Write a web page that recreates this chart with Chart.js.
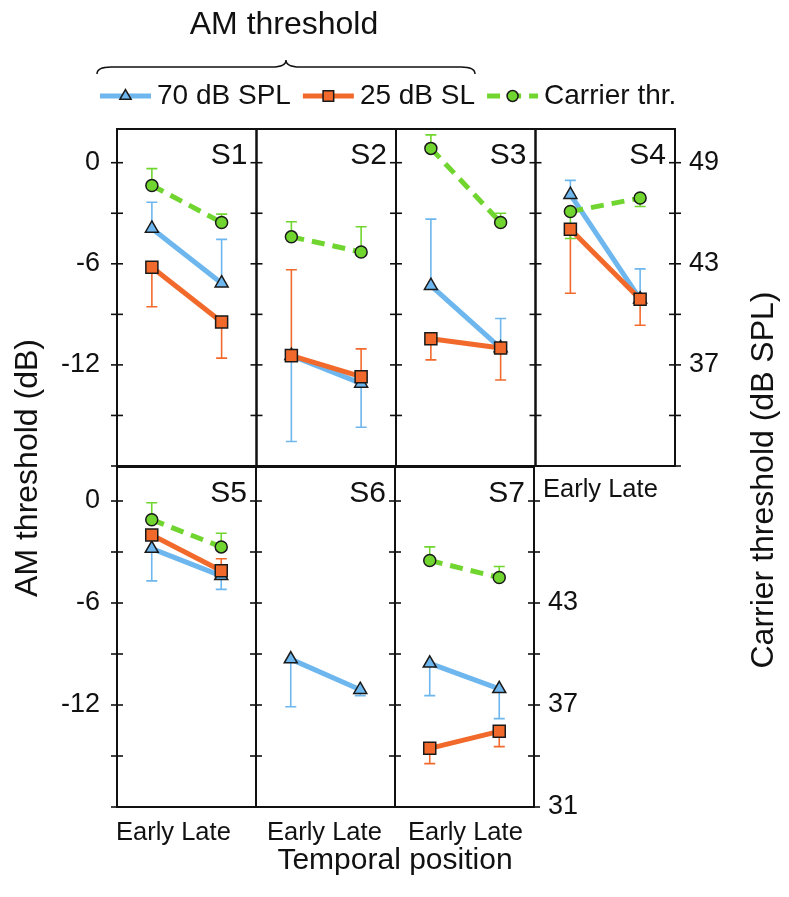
<!DOCTYPE html>
<html>
<head>
<meta charset="utf-8">
<title>AM threshold by temporal position</title>
<script src="https://cdn.jsdelivr.net/npm/chart.js@4.4.1/dist/chart.umd.min.js"></script>
<style>
  html, body { margin:0; padding:0; background:#ffffff; }
  #wrap { position:relative; width:789px; height:897px; overflow:hidden; background:#fff; }
  #wrap canvas { position:absolute; left:0; top:0; }
</style>
</head>
<body>
<div id="wrap">
  <canvas id="rowTop" width="789" height="897"></canvas>
  <canvas id="rowBottom" width="789" height="897"></canvas>
</div>
<script>
// ---------------- data ----------------
const topPanels = ['S1', 'S2', 'S3', 'S4'];
const bottomPanels = ['S5', 'S6', 'S7'];
const positions = ['Early', 'Late'];
const seriesNames = ['70 dB SPL', '25 dB SL', 'Carrier thr.'];
const amTicks = [0, -3, -6, -9, -12, -15, -18];
const amTickLabels = ['0', '-6', '-12'];
const carrierTicks = [49, 46, 43, 40, 37, 34, 31];
const carrierLabelsTop = ['49', '43', '37'];
const carrierLabelsBottom = ['43', '37', '31'];

// AM thresholds (dB), order: S1 Early, S1 Late, S2 Early, S2 Late, ...
const spl70Top       = [-3.9, -7.15, -11.45, -13.1, -7.3, -11.0, -1.9, -8.1];
const spl70TopErr    = [-2.35, -4.55, -16.55, -15.7, -3.35, -9.25, -1.05, -6.3];
const sl25Top        = [-6.2, -9.45, -11.45, -12.7, -10.45, -11.0, -3.95, -8.1];
const sl25TopErr     = [-8.55, -11.6, -6.35, -11.05, -11.7, -12.9, -7.75, -9.65];
// carrier thresholds (dB SPL)
const carrierTop     = [47.65, 45.45, 44.6, 43.7, 49.85, 45.45, 46.1, 46.9];
const carrierTopErr  = [48.65, 45.95, 45.5, 45.2, 50.65, 46.0, 44.5, 46.4];

const spl70Bottom      = [-2.8, -4.4, -9.3, -11.1, -9.55, -11.05];
const spl70BottomErr   = [-4.7, -5.2, -12.1, -11.45, -11.45, -12.8];
const sl25Bottom       = [-2.0, -4.1, null, null, -14.55, -13.55];
const sl25BottomErr    = [null, -3.4, null, null, -15.45, -14.45];
const carrierBottom    = [47.9, 46.3, null, null, 45.5, 44.5];
const carrierBottomErr = [48.9, 47.1, null, null, 46.3, 45.15];

// ---------------- style ----------------
const FONT = '"Liberation Sans", Arial, Helvetica, sans-serif';
const INK = '#111111';
const STYLE = [
  { color: '#6db6ee', marker: 'triangle', radius: 7.5, legendRadius: 6.5, dash: [],      axis: 'yL' },
  { color: '#f26a2b', marker: 'rect',     radius: 8.5, legendRadius: 7.5, dash: [],      axis: 'yL' },
  { color: '#70d62f', marker: 'circle',   radius: 6,   legendRadius: 5.5, dash: [13, 8], axis: 'yR' }
];

const errorBarPlugin = {
  id: 'errorBars',
  beforeDatasetsDraw(chart) {
    const ctx = chart.ctx;
    chart.data.datasets.forEach((ds, i) => {
      const meta = chart.getDatasetMeta(i);
      const ys = chart.scales[ds.yAxisID];
      ds.data.forEach((v, j) => {
        const e = ds.errEnd[j];
        if (v == null || e == null) return;
        const x = meta.data[j].x;
        const y0 = ys.getPixelForValue(v), y1 = ys.getPixelForValue(e);
        ctx.save();
        ctx.strokeStyle = ds.borderColor;
        ctx.lineWidth = 1.6;
        ctx.setLineDash([]);
        ctx.beginPath();
        ctx.moveTo(x, y0); ctx.lineTo(x, y1);
        ctx.moveTo(x - 5.5, y1); ctx.lineTo(x + 5.5, y1);
        ctx.stroke();
        ctx.restore();
      });
    });
  }
};

function framePlugin(panels, isTop) {
  return {
    id: 'frame',
    afterDraw(chart) {
      const ctx = chart.ctx, xs = chart.scales.x, yl = chart.scales.yL, yr = chart.scales.yR, a = chart.chartArea;
      const edges = [];
      for (let k = 0; k <= panels.length; k++) edges.push(xs.getPixelForValue(2 * k - 0.5));
      ctx.save();
      ctx.strokeStyle = INK;
      ctx.lineWidth = 2;
      panels.forEach((p, k) => ctx.strokeRect(edges[k], a.top, edges[k + 1] - edges[k], a.bottom - a.top));
      // tick marks crossing every panel edge
      ctx.lineWidth = 1.6;
      edges.forEach((ex, k) => {
        const last = k === edges.length - 1;
        const pys = last ? carrierTicks.map(v => yr.getPixelForValue(v)) : amTicks.map(v => yl.getPixelForValue(v));
        pys.forEach(py => { ctx.beginPath(); ctx.moveTo(ex - 6, py); ctx.lineTo(ex + 6, py); ctx.stroke(); });
      });
      // panel names
      ctx.fillStyle = INK;
      ctx.font = '30px ' + FONT;
      ctx.textAlign = 'right';
      ctx.textBaseline = 'alphabetic';
      panels.forEach((p, k) => ctx.fillText(p, edges[k + 1] - 9, a.top + 35));

      const posText = positions.join(' ');
      if (!isTop) {
        ctx.font = '25.5px ' + FONT;
        ctx.textAlign = 'left';
        const offs = [-1, 11, 13];
        panels.forEach((p, k) => ctx.fillText(posText, edges[k] + offs[k], a.bottom + 33));
        ctx.fillText(posText, a.right + 9, a.top + 30);
        ctx.font = '30px ' + FONT;
        ctx.textAlign = 'center';
        const fullRight = xs.getPixelForValue(2 * (panels.length + 1) - 0.5);
        ctx.fillText('Temporal position', (a.left + fullRight) / 2, a.bottom + 62);
      } else {
        // headline + brace
        ctx.font = '32px ' + FONT;
        ctx.textAlign = 'center';
        ctx.fillText('AM threshold', 284, 34);
        ctx.lineWidth = 1.5;
        const x1 = 97, x2 = 475, xm = (x1 + x2) / 2, by = 67, r = 7;
        ctx.beginPath();
        ctx.moveTo(x1, by + r);
        ctx.quadraticCurveTo(x1, by, x1 + 2 * r, by);
        ctx.lineTo(xm - 2 * r, by);
        ctx.quadraticCurveTo(xm, by, xm, by - r);
        ctx.quadraticCurveTo(xm, by, xm + 2 * r, by);
        ctx.lineTo(x2 - 2 * r, by);
        ctx.quadraticCurveTo(x2, by, x2, by + r);
        ctx.stroke();
        // legend
        let lx = 100; const ly = 96;
        ctx.font = '28px ' + FONT;
        ctx.textAlign = 'left';
        ctx.textBaseline = 'middle';
        STYLE.forEach((st, k) => {
          ctx.strokeStyle = st.color;
          ctx.lineWidth = 5;
          ctx.setLineDash(st.dash);
          ctx.beginPath(); ctx.moveTo(lx, ly); ctx.lineTo(lx + 51, ly); ctx.stroke();
          ctx.setLineDash([]);
          ctx.fillStyle = st.color;
          ctx.strokeStyle = '#1a1a1a';
          ctx.lineWidth = 1.5;
          Chart.helpers.drawPoint(ctx, { pointStyle: st.marker, radius: st.legendRadius, borderWidth: 1.5, rotation: 0 }, lx + 25.5, ly);
          ctx.fillStyle = INK;
          ctx.fillText(seriesNames[k], lx + 57, ly);
          lx += 57 + ctx.measureText(seriesNames[k]).width + 12;
        });
        // axis titles
        ctx.font = '32px ' + FONT;
        ctx.textAlign = 'center';
        ctx.textBaseline = 'middle';
        ctx.save(); ctx.translate(28, 468); ctx.rotate(-Math.PI / 2); ctx.fillText('AM threshold (dB)', 0, 0); ctx.restore();
        ctx.save(); ctx.translate(764, 480); ctx.rotate(-Math.PI / 2); ctx.fillText('Carrier threshold (dB SPL)', 0, 0); ctx.restore();
      }
      ctx.restore();
    }
  };
}

function rowChart(canvasId, panels, series, rightLabels, area, isTop) {
  const labels = panels.flatMap(p => positions.map(t => p + ' ' + t));
  const datasets = series.map((s, k) => {
    const st = STYLE[k];
    return {
      label: seriesNames[k],
      data: s.values,
      errEnd: s.err,
      yAxisID: st.axis,
      order: 3 - k,
      borderColor: st.color,
      backgroundColor: st.color,
      borderWidth: 5,
      borderDash: st.dash,
      pointStyle: st.marker,
      pointRadius: st.radius,
      pointHoverRadius: st.radius,
      pointBackgroundColor: st.color,
      pointBorderColor: '#1a1a1a',
      pointBorderWidth: 1.5,
      tension: 0,
      spanGaps: false,
      fill: false,
      segment: { borderColor: c => (c.p0DataIndex % 2 === 1 ? 'rgba(0,0,0,0)' : undefined) }
    };
  });
  return new Chart(document.getElementById(canvasId), {
    type: 'line',
    data: { labels, datasets },
    options: {
      responsive: false,
      animation: false,
      events: [],
      layout: { padding: { top: area.top, bottom: 897 - area.bottom, left: 0, right: 0 } },
      plugins: { legend: { display: false }, tooltip: { enabled: false }, title: { display: false } },
      scales: {
        x: { type: 'category', offset: true, display: false, afterFit: s => { s.height = 0; } },
        yL: {
          type: 'linear', position: 'left', min: -18, max: 2,
          afterBuildTicks: s => { s.ticks = amTicks.map(v => ({ value: v })); },
          afterFit: s => { s.width = area.left; },
          grid: { display: false, drawTicks: false }, border: { display: false },
          ticks: { padding: 17, color: INK, font: { family: FONT, size: 27 },
                   callback: v => (amTickLabels.includes(String(v)) ? String(v) : '') }
        },
        yR: {
          type: 'linear', position: 'right', min: 31, max: 51,
          afterBuildTicks: s => { s.ticks = carrierTicks.map(v => ({ value: v })); },
          afterFit: s => { s.width = 789 - area.right; },
          grid: { display: false, drawTicks: false }, border: { display: false },
          ticks: { padding: 14, color: INK, font: { family: FONT, size: 27 },
                   callback: v => (rightLabels.includes(String(v)) ? String(v) : '') }
        }
      }
    },
    plugins: [errorBarPlugin, framePlugin(panels, isTop)]
  });
}

rowChart('rowTop', topPanels, [
  { values: spl70Top, err: spl70TopErr },
  { values: sl25Top, err: sl25TopErr },
  { values: carrierTop, err: carrierTopErr }
], carrierLabelsTop, { left: 117, right: 675, top: 129, bottom: 466 }, true);

rowChart('rowBottom', bottomPanels, [
  { values: spl70Bottom, err: spl70BottomErr },
  { values: sl25Bottom, err: sl25BottomErr },
  { values: carrierBottom, err: carrierBottomErr }
], carrierLabelsBottom, { left: 117, right: 534, top: 467, bottom: 807 }, false);
</script>
</body>
</html>
